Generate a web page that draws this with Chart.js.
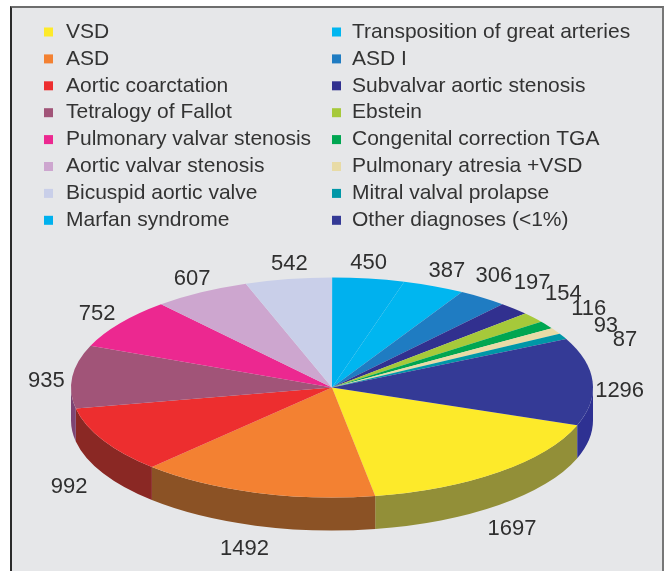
<!DOCTYPE html>
<html>
<head>
<meta charset="utf-8">
<style>
html, body { margin: 0; padding: 0; background: #fff; overflow: hidden; }
#box { position: absolute; left: 10px; top: 6px; width: 650px; height: 565px; background: #e6e7e9;
  border-left: 2px solid #2b2b2b; border-top: 2px solid #6d6d6d; border-right: 2px solid #777; }
#wrap { position: absolute; left: 0; top: 0; width: 665px; height: 571px; }
</style>
</head>
<body>
<div id="box"></div>
<div id="wrap"><canvas id="myChart" width="665" height="571"></canvas></div>
<script src="https://cdn.jsdelivr.net/npm/chart.js@4/dist/chart.umd.min.js"></script>
<script>
var diagnoses = ["VSD", "ASD", "Aortic coarctation", "Tetralogy of Fallot", "Pulmonary valvar stenosis",
  "Aortic valvar stenosis", "Bicuspid aortic valve", "Marfan syndrome", "Transposition of great arteries",
  "ASD I", "Subvalvar aortic stenosis", "Ebstein", "Congenital correction TGA", "Pulmonary atresia +VSD",
  "Mitral valval prolapse", "Other diagnoses (<1%)"];
var patients = [1697, 1492, 992, 935, 752, 607, 542, 450, 387, 306, 197, 154, 116, 93, 87, 1296];

var topColors = ["#fdea2a", "#f38132", "#ed2e2f", "#a15478", "#ec2890", "#cda6cf", "#c9cfe9", "#00b1ee",
  "#00b6f0", "#1f7cc2", "#31308f", "#a6c93a", "#00a651", "#e8dba6", "#0097a7", "#343a96"];
var wallColors = ["#928f38", "#8b5225", "#8a2824", "#7d4474", "#a01c62", "#8d7390", "#8b90a3", "#007aa5",
  "#007ea6", "#155587", "#222164", "#739028", "#007338", "#a19874", "#006873", "#2e3192"];

// nudges of each value label away from the rim of its slice
var labelNudgeX = [13, -11, -34, -26, -23, -9, 1, 0, 13, 11, 18, 30, 42, 50, 62, 27];
var labelNudgeY = [57, 56, 47, 4, -9, -13, -15, -16, -15, -22, -26, -24, -16, -5, 4, 9];

var pieX = 332, pieY = 387.5, pieRadius = 261, squash = 0.4215, pieDepth = 33;

var pie3d = {
  id: 'pie3d',
  beforeDatasetsDraw: function (chart) {
    var ctx = chart.ctx, arcs = chart.getDatasetMeta(0).data;
    arcs.forEach(function (a, i) {
      var ry = a.outerRadius * squash;
      ctx.fillStyle = wallColors[i];
      // only the front half of the rim has a wall; angles run past one full turn
      [0, 2 * Math.PI].forEach(function (turn) {
        var from = Math.max(a.startAngle, turn);
        var to = Math.min(a.endAngle, turn + Math.PI);
        if (to <= from) return;
        ctx.beginPath();
        ctx.ellipse(pieX, pieY, a.outerRadius, ry, 0, from, to);
        ctx.ellipse(pieX, pieY + pieDepth, a.outerRadius, ry, 0, to, from, true);
        ctx.closePath();
        ctx.fill();
      });
    });
    // the top face: the library's own arcs, flattened
    ctx.save();
    ctx.translate(pieX, pieY);
    ctx.scale(1, squash);
    ctx.translate(-arcs[0].x, -arcs[0].y);
  },
  afterDatasetsDraw: function (chart) {
    var ctx = chart.ctx, arcs = chart.getDatasetMeta(0).data;
    ctx.restore();
    ctx.save();
    ctx.fillStyle = "#2f2f2f";
    ctx.font = "22px 'Liberation Sans'";
    ctx.textAlign = "center";
    ctx.textBaseline = "middle";
    arcs.forEach(function (a, i) {
      var mid = (a.startAngle + a.endAngle) / 2;
      var x = pieX + a.outerRadius * Math.cos(mid);
      var y = pieY + a.outerRadius * squash * Math.sin(mid);
      ctx.fillText(patients[i], x + labelNudgeX[i], y + labelNudgeY[i]);
    });
    ctx.restore();
  },
  afterDraw: function (chart) {
    var ctx = chart.ctx;
    ctx.save();
    ctx.font = "21px 'Liberation Sans'";
    ctx.textBaseline = "middle";
    diagnoses.forEach(function (name, i) {
      var col = i < 8 ? 0 : 1;
      var row = col ? i - 8 : i;
      var y = 32 + row * 26.9;
      ctx.fillStyle = topColors[i];
      ctx.fillRect(col ? 332 : 44, y - 4.5, 9, 9);
      ctx.fillStyle = "#333";
      ctx.fillText(name, col ? 352 : 66, y);
    });
    ctx.restore();
  }
};

var myChart = new Chart(document.getElementById("myChart"), {
  type: 'pie',
  data: {
    labels: diagnoses,
    datasets: [{
      data: patients,
      backgroundColor: topColors,
      borderWidth: 0,
      radius: pieRadius,
      clip: false
    }]
  },
  options: {
    responsive: false,
    animation: false,
    rotation: 110,
    events: [],
    plugins: { legend: { display: false }, tooltip: { enabled: false } }
  },
  plugins: [pie3d]
});
</script>
</body>
</html>
